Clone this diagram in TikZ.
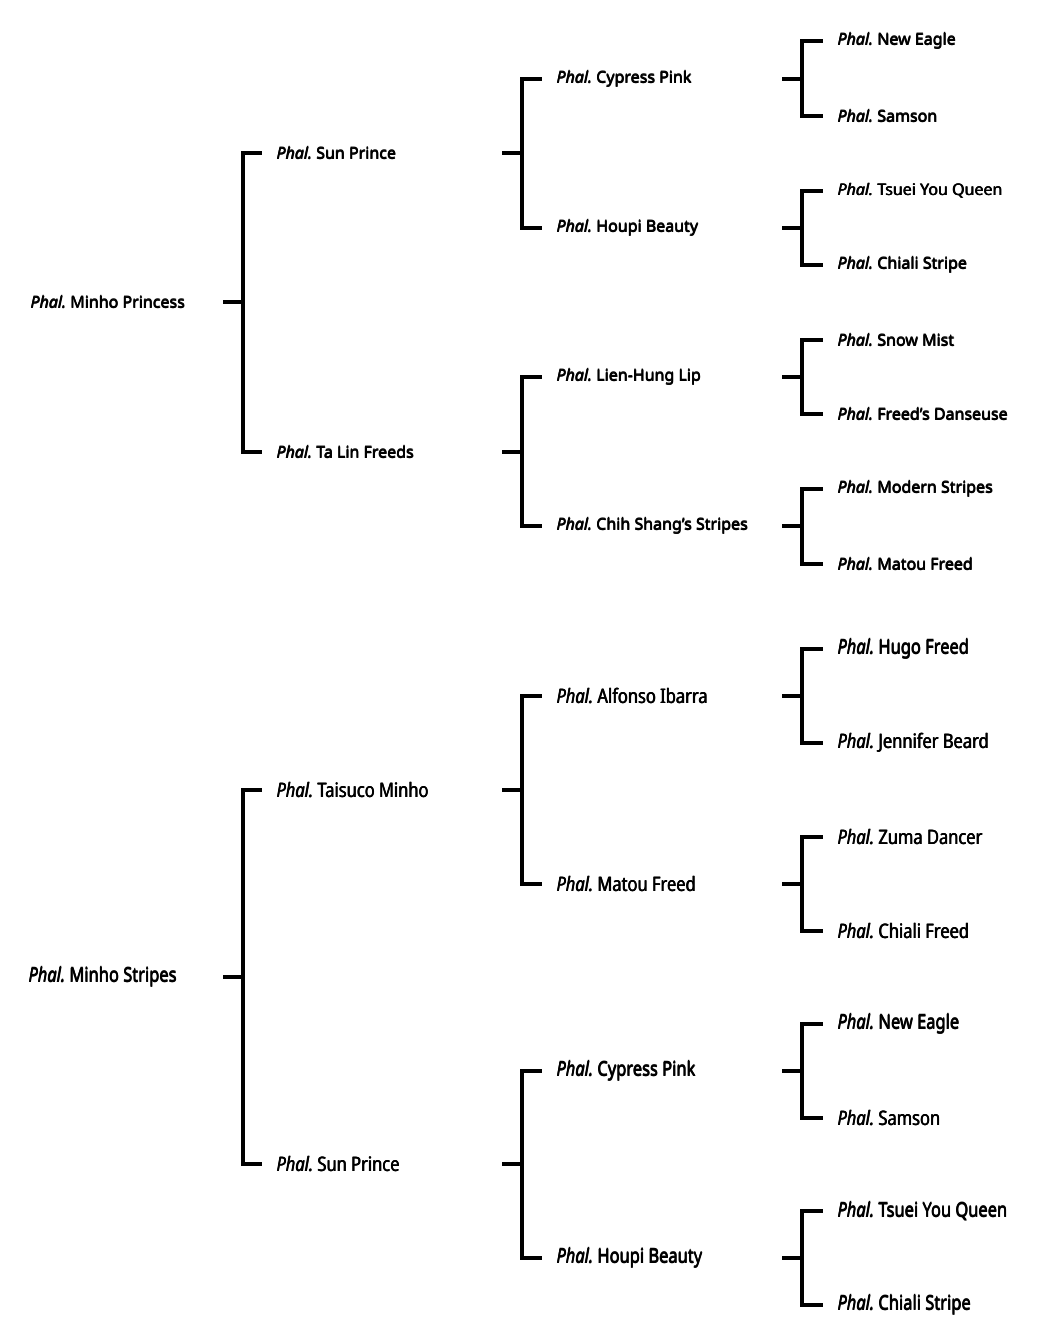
\documentclass[tikz,border=0pt]{standalone}
\usepackage{fontspec}
\usepackage{graphicx}
\setmainfont{Noto Sans}
\newfontfamily\pf{Noto Sans}
\newcommand\ph{\textit{Phal.}\ }
\newcommand\pb[1]{\makebox[0pt][l]{#1}\makebox[0pt][l]{\kern0.25pt\raisebox{0.3pt}{#1}}\kern0.5pt #1}
\newcommand\tl[1]{\pb{#1}}
\newcommand\bt[1]{\scalebox{0.95}[1.15]{\pb{#1}}}
\newcommand\pedlink[4]{%
  \coordinate (#1-j) at (#1.west -| #4,0);
  \draw[link] ([xshift=-13.5pt]#1-j) -- (#1-j);
  \draw[link] (#1-j) |- ([xshift=-12pt]#2.west);
  \draw[link] (#1-j) |- ([xshift=-12pt]#3.west);
}
\begin{document}
\begin{tikzpicture}[x=0.75pt,y=-0.75pt,
  lbl/.style={anchor=west,inner sep=0pt,font=\pf\fontsize{12}{14}\selectfont},
  lblb/.style={anchor=west,inner sep=0pt,font=\pf\fontsize{13}{15}\selectfont},
  link/.style={line width=2.3pt,line cap=rect,line join=miter}]
\useasboundingbox (0,0) rectangle (1038,1339);
% ---------- top tree ----------
\node[lbl] (A) at (30,302) {\tl{\ph Minho Princess}};
\node[lbl] (A1) at (276,153) {\tl{\ph Sun Prince}};
\node[lbl] (A2) at (276,452) {\tl{\ph Ta Lin Freeds}};
\node[lbl] (A11) at (556,79) {\tl{\ph Cypress Pink}};
\node[lbl] (A12) at (556,228) {\tl{\ph Houpi Beauty}};
\node[lbl] (A21) at (556,377) {\tl{\ph Lien-Hung Lip}};
\node[lbl] (A22) at (556,526) {\tl{\ph Chih Shang’s Stripes}};
\node[lbl] (A111) at (837,41) {\tl{\ph New Eagle}};
\node[lbl] (A112) at (837,116) {\tl{\ph Samson}};
\node[lbl] (A121) at (837,191) {\tl{\ph Tsuei You Queen}};
\node[lbl] (A122) at (837,265) {\tl{\ph Chiali Stripe}};
\node[lbl] (A211) at (837,340) {\tl{\ph Snow Mist}};
\node[lbl] (A212) at (837,414) {\tl{\ph Freed’s Danseuse}};
\node[lbl] (A221) at (837,489) {\tl{\ph Modern Stripes}};
\node[lbl] (A222) at (837,564) {\tl{\ph Matou Freed}};
\pedlink{A}{A1}{A2}{243}
\pedlink{A1}{A11}{A12}{522}
\pedlink{A2}{A21}{A22}{522}
\pedlink{A11}{A111}{A112}{802}
\pedlink{A12}{A121}{A122}{802}
\pedlink{A21}{A211}{A212}{802}
\pedlink{A22}{A221}{A222}{802}
% ---------- bottom tree ----------
\node[lblb] (B) at (28,977) {\bt{\ph Minho Stripes}};
\node[lblb] (B1) at (276,790) {\bt{\ph Taisuco Minho}};
\node[lblb] (B2) at (276,1164) {\bt{\ph Sun Prince}};
\node[lblb] (B11) at (556,696) {\bt{\ph Alfonso Ibarra}};
\node[lblb] (B12) at (556,884) {\bt{\ph Matou Freed}};
\node[lblb] (B21) at (556,1071) {\bt{\ph Cypress Pink}};
\node[lblb] (B22) at (556,1258) {\bt{\ph Houpi Beauty}};
\node[lblb] (B111) at (837,649) {\bt{\ph Hugo Freed}};
\node[lblb] (B112) at (837,743) {\bt{\ph Jennifer Beard}};
\node[lblb] (B121) at (837,837) {\bt{\ph Zuma Dancer}};
\node[lblb] (B122) at (837,931) {\bt{\ph Chiali Freed}};
\node[lblb] (B211) at (837,1024) {\bt{\ph New Eagle}};
\node[lblb] (B212) at (837,1118) {\bt{\ph Samson}};
\node[lblb] (B221) at (837,1211) {\bt{\ph Tsuei You Queen}};
\node[lblb] (B222) at (837,1305) {\bt{\ph Chiali Stripe}};
\pedlink{B}{B1}{B2}{243}
\pedlink{B1}{B11}{B12}{522}
\pedlink{B2}{B21}{B22}{522}
\pedlink{B11}{B111}{B112}{802}
\pedlink{B12}{B121}{B122}{802}
\pedlink{B21}{B211}{B212}{802}
\pedlink{B22}{B221}{B222}{802}
\end{tikzpicture}
\end{document}
